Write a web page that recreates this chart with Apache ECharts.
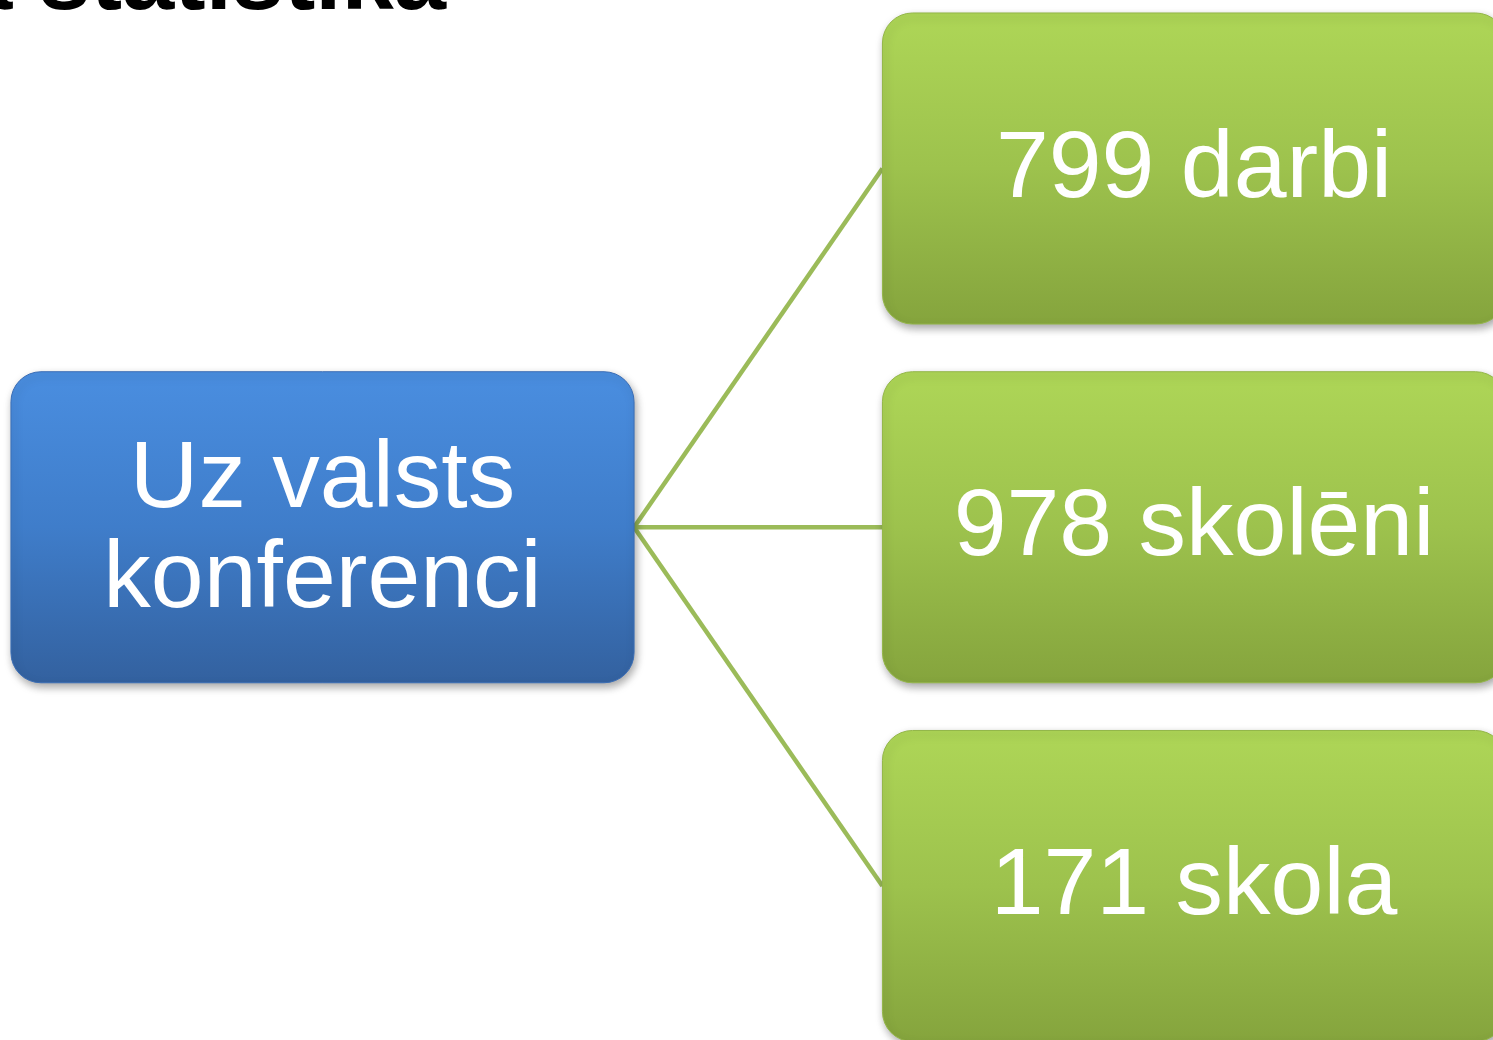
<!DOCTYPE html>
<html>
<head>
<meta charset="utf-8">
<script src="https://cdn.jsdelivr.net/npm/echarts@6/dist/echarts.min.js"></script>
<style>
html,body{margin:0;padding:0;background:#ffffff;}
#main{width:1493px;height:1040px;}
</style>
</head>
<body>
<div id="main"></div>
<script>
// ---- data ----
var titleText = 'a statistika';
var rootLabel = 'Uz valsts\nkonferenci';
var childLabels = ['799 darbi', '978 skolēni', '171 skola'];
// column (0 = root, 1 = children) and row indexes
var rootPos = [0, 1];
var childRows = [0, 1, 2];

var chart = echarts.init(document.getElementById('main'), null, {renderer: 'canvas'});

var BOX_W = 0.715, BOX_H = 0.867;
var FONT = '95px "Liberation Sans", Arial, sans-serif';

var nodeData = [{value: [rootPos[0], rootPos[1]], name: rootLabel, kind: 'root'}];
childLabels.forEach(function (l, i) {
  nodeData.push({value: [1, childRows[i]], name: l, kind: 'child'});
});
var linkData = childRows.map(function (r) { return [rootPos[0], rootPos[1], 1, r]; });

function boxRect(api, cx, cy) {
  var c = api.coord([cx, cy]);
  var s = api.size([BOX_W, BOX_H]);
  return {x: c[0] - s[0] / 2, y: c[1] - s[1] / 2, width: s[0], height: s[1]};
}

var option = {
  animation: false,
  grid: {left: 322.5, right: 299, top: 168.5, bottom: 154},
  xAxis: {type: 'value', min: 0, max: 1, show: false},
  yAxis: {type: 'value', min: 0, max: 2, inverse: true, show: false},
  graphic: [{
    type: 'text',
    right: 1493 - 446,
    top: -64,
    style: {
      text: titleText,
      font: 'bold 94px "Liberation Sans", Arial, sans-serif',
      fill: '#000000'
    }
  }],
  series: [{
    type: 'custom',
    coordinateSystem: 'cartesian2d',
    data: linkData,
    z: 1,
    renderItem: function (params, api) {
      var r = boxRect(api, api.value(0), api.value(1));
      var c = boxRect(api, api.value(2), api.value(3));
      return {
        type: 'line',
        shape: {
          x1: r.x + r.width, y1: r.y + r.height / 2,
          x2: c.x, y2: c.y + c.height / 2
        },
        style: {stroke: '#9BBB59', lineWidth: 4.5}
      };
    }
  }, {
    type: 'custom',
    coordinateSystem: 'cartesian2d',
    data: nodeData,
    z: 2,
    renderItem: function (params, api) {
      var d = nodeData[params.dataIndex];
      var r = boxRect(api, api.value(0), api.value(1));
      var isRoot = d.kind === 'root';
      var stops = isRoot
        ? [{offset: 0, color: '#4a8ee0'}, {offset: 0.5, color: '#3f7dca'}, {offset: 1, color: '#33619f'}]
        : [{offset: 0, color: '#aed657'}, {offset: 0.5, color: '#9dc24d'}, {offset: 1, color: '#85a43d'}];
      return {
        type: 'group',
        children: [{
          type: 'rect',
          shape: {x: r.x, y: r.y, width: r.width, height: r.height, r: 30},
          style: {
            fill: {type: 'linear', x: 0, y: 0, x2: 0, y2: 1, colorStops: stops},
            stroke: isRoot ? '#3a6db5' : '#93b648',
            lineWidth: 1,
            shadowBlur: 8,
            shadowOffsetX: 2,
            shadowOffsetY: 4,
            shadowColor: 'rgba(0,0,0,0.35)'
          }
        }, {
          type: 'text',
          style: {
            x: r.x + r.width / 2,
            y: r.y + r.height / 2 + (isRoot ? 4 : 2),
            text: d.name,
            font: FONT,
            lineHeight: 100,
            fill: '#ffffff',
            align: 'center',
            verticalAlign: 'middle'
          }
        }]
      };
    }
  }]
};
chart.setOption(option);
</script>
</body>
</html>
